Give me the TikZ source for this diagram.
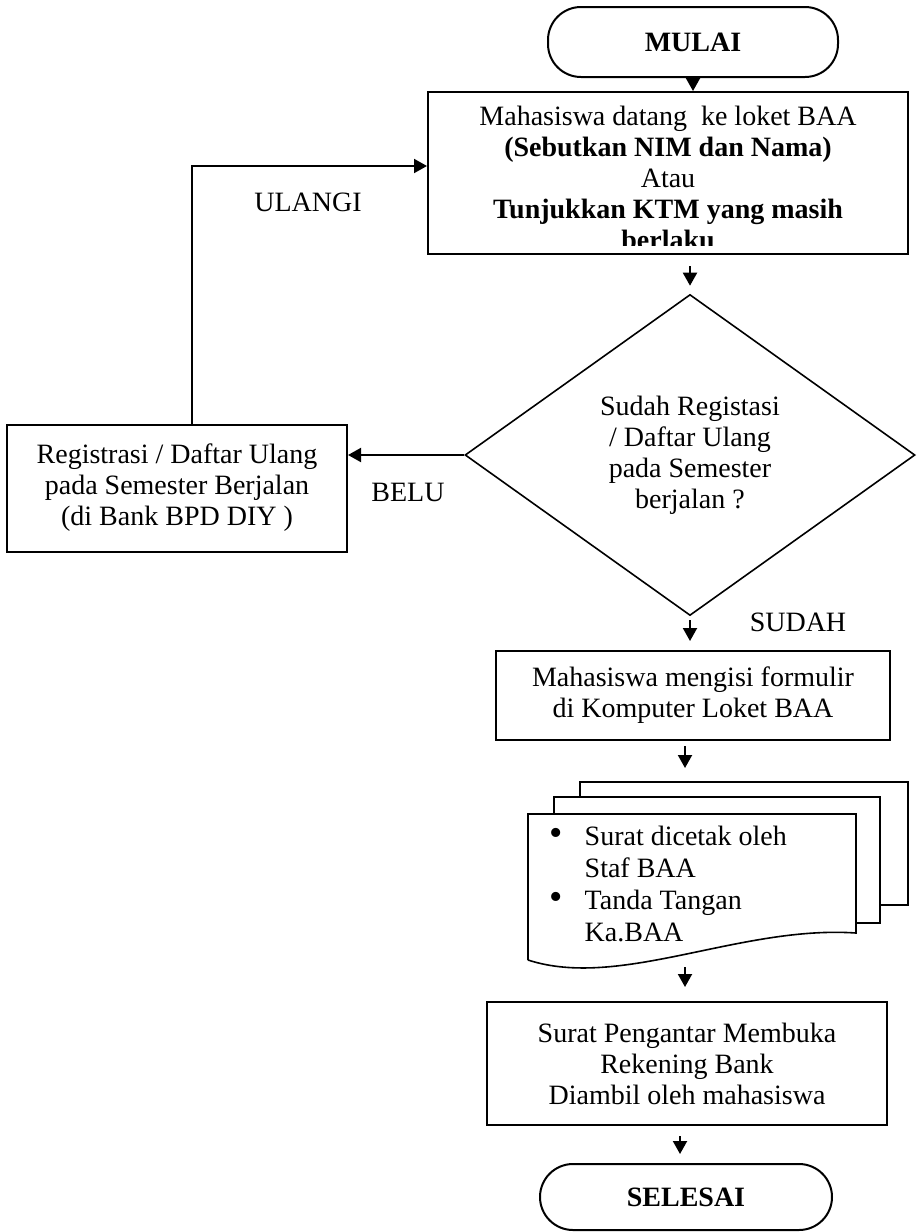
\documentclass[tikz,border=0pt]{standalone}
\usepackage{fontspec}
\setmainfont{Liberation Serif}
\usepackage{tikz}
\usetikzlibrary{arrows.meta,positioning,shapes.geometric,calc}
\tikzset{
  teks/.style={align=center, inner sep=0pt, font=\fontsize{14}{15.5}\selectfont},
  kotak/.style={teks, draw=black, line width=1pt},
  ujung/.style={kotak, rounded corners=16.5pt, font=\fontsize{14}{15.5}\selectfont\bfseries},
  putusan/.style={teks, diamond, draw=black, line width=0.8pt, aspect=1.4},
  halaman/.style={draw=black, line width=0.8pt},
  alur/.style={-{Triangle[length=6.5pt, width=7pt]}, line width=1pt, draw=black},
}
\newcommand{\titik}{{\fontsize{19}{15.5}\selectfont •}}

\begin{document}
\begin{tikzpicture}[x=0.5pt, y=-0.5pt]
\useasboundingbox (0,0) rectangle (916,1232);

% ---------- awal ----------
\node[ujung, minimum width=145pt, minimum height=35pt] (mulai) at (693,42) {MULAI};
\node[kotak, minimum width=240pt, minimum height=81pt] (datang) at (668,173) {};
\begin{scope}
\clip (428,92) rectangle (908,245);
\node[teks, anchor=north] (datangisi) at (668,106)
  {Mahasiswa datang \ ke loket BAA\\ \textbf{(Sebutkan NIM dan Nama)}\\ Atau\\
   \textbf{Tunjukkan KTM yang masih}\\ \textbf{berlaku}};
\end{scope}

% ---------- keputusan ----------
\node[putusan, minimum width=225pt, minimum height=160.5pt] (cek) at (690,455)
  {Sudah Registasi\\/ Daftar Ulang\\pada Semester\\berjalan ?};
\node[kotak, minimum width=170pt, minimum height=63.5pt] (daftar) at (177,488)
  {Registrasi / Daftar Ulang\\pada Semester Berjalan\\(di Bank BPD DIY )};
\node[teks] (ulangi) at (308,202) {ULANGI};
\node[teks] (belum) at (408,492) {BELU};
\node[teks] (sudah) at (798,622) {SUDAH};

% ---------- proses ----------
\node[kotak, minimum width=197pt, minimum height=44.5pt] (isi) at (693,695.5)
  {Mahasiswa mengisi formulir\\di Komputer Loket BAA};

% multi dokumen
\draw[halaman] (580,797) -- (580,782) -- (908,782) -- (908,905) -- (880,905);
\draw[halaman] (554,814) -- (554,797) -- (880,797) -- (880,923) -- (856,923);
\draw[halaman] (528,960) -- (528,814) -- (856,814) -- (856,933)
  .. controls (740,925) and (620,990) .. (528,960);
\node[teks, anchor=north west] (cetak) at (549,823)
  {\begin{tabular}{@{}l@{\hspace{11pt}}l@{}}
   \titik & Surat dicetak oleh\\[0.5pt]
          & Staf BAA\\[0.5pt]
   \titik & Tanda Tangan\\[0.5pt]
          & Ka.BAA
   \end{tabular}};
\coordinate (cetakatas) at (685,768);
\coordinate (cetakbawah) at (685,967);

\node[kotak, minimum width=200pt, minimum height=61.5pt] (ambil) at (687,1063.5)
  {Surat Pengantar Membuka\\Rekening Bank\\Diambil oleh mahasiswa};
\node[ujung, minimum width=146pt, minimum height=33pt] (selesai) at (686,1197) {SELESAI};

% ---------- alur ----------
\draw[alur] (mulai.south) -- (mulai.south |- datang.north);
\draw[alur] ([yshift=-5.5pt]datang.south -| cek.north) -- ([yshift=4pt]cek.north);
\draw[alur] (cek.west) -- (cek.west -| daftar.east);
\draw[alur] ([xshift=7.5pt]daftar.north) |- ([yshift=3.5pt]datang.west);
\draw[alur] ([yshift=-2pt]cek.south) -- ([yshift=4.5pt]isi.north -| cek.south);
\draw[alur] ([yshift=-2.5pt]isi.south -| cetakatas) -- (cetakatas);
\draw[alur] (cetakbawah) -- ([yshift=7pt]ambil.north -| cetakbawah);
\draw[alur] ([xshift=-3.5pt, yshift=-5pt]ambil.south) -- ([xshift=-3.5pt, yshift=4.5pt]ambil.south |- selesai.north);
\end{tikzpicture}
\end{document}
